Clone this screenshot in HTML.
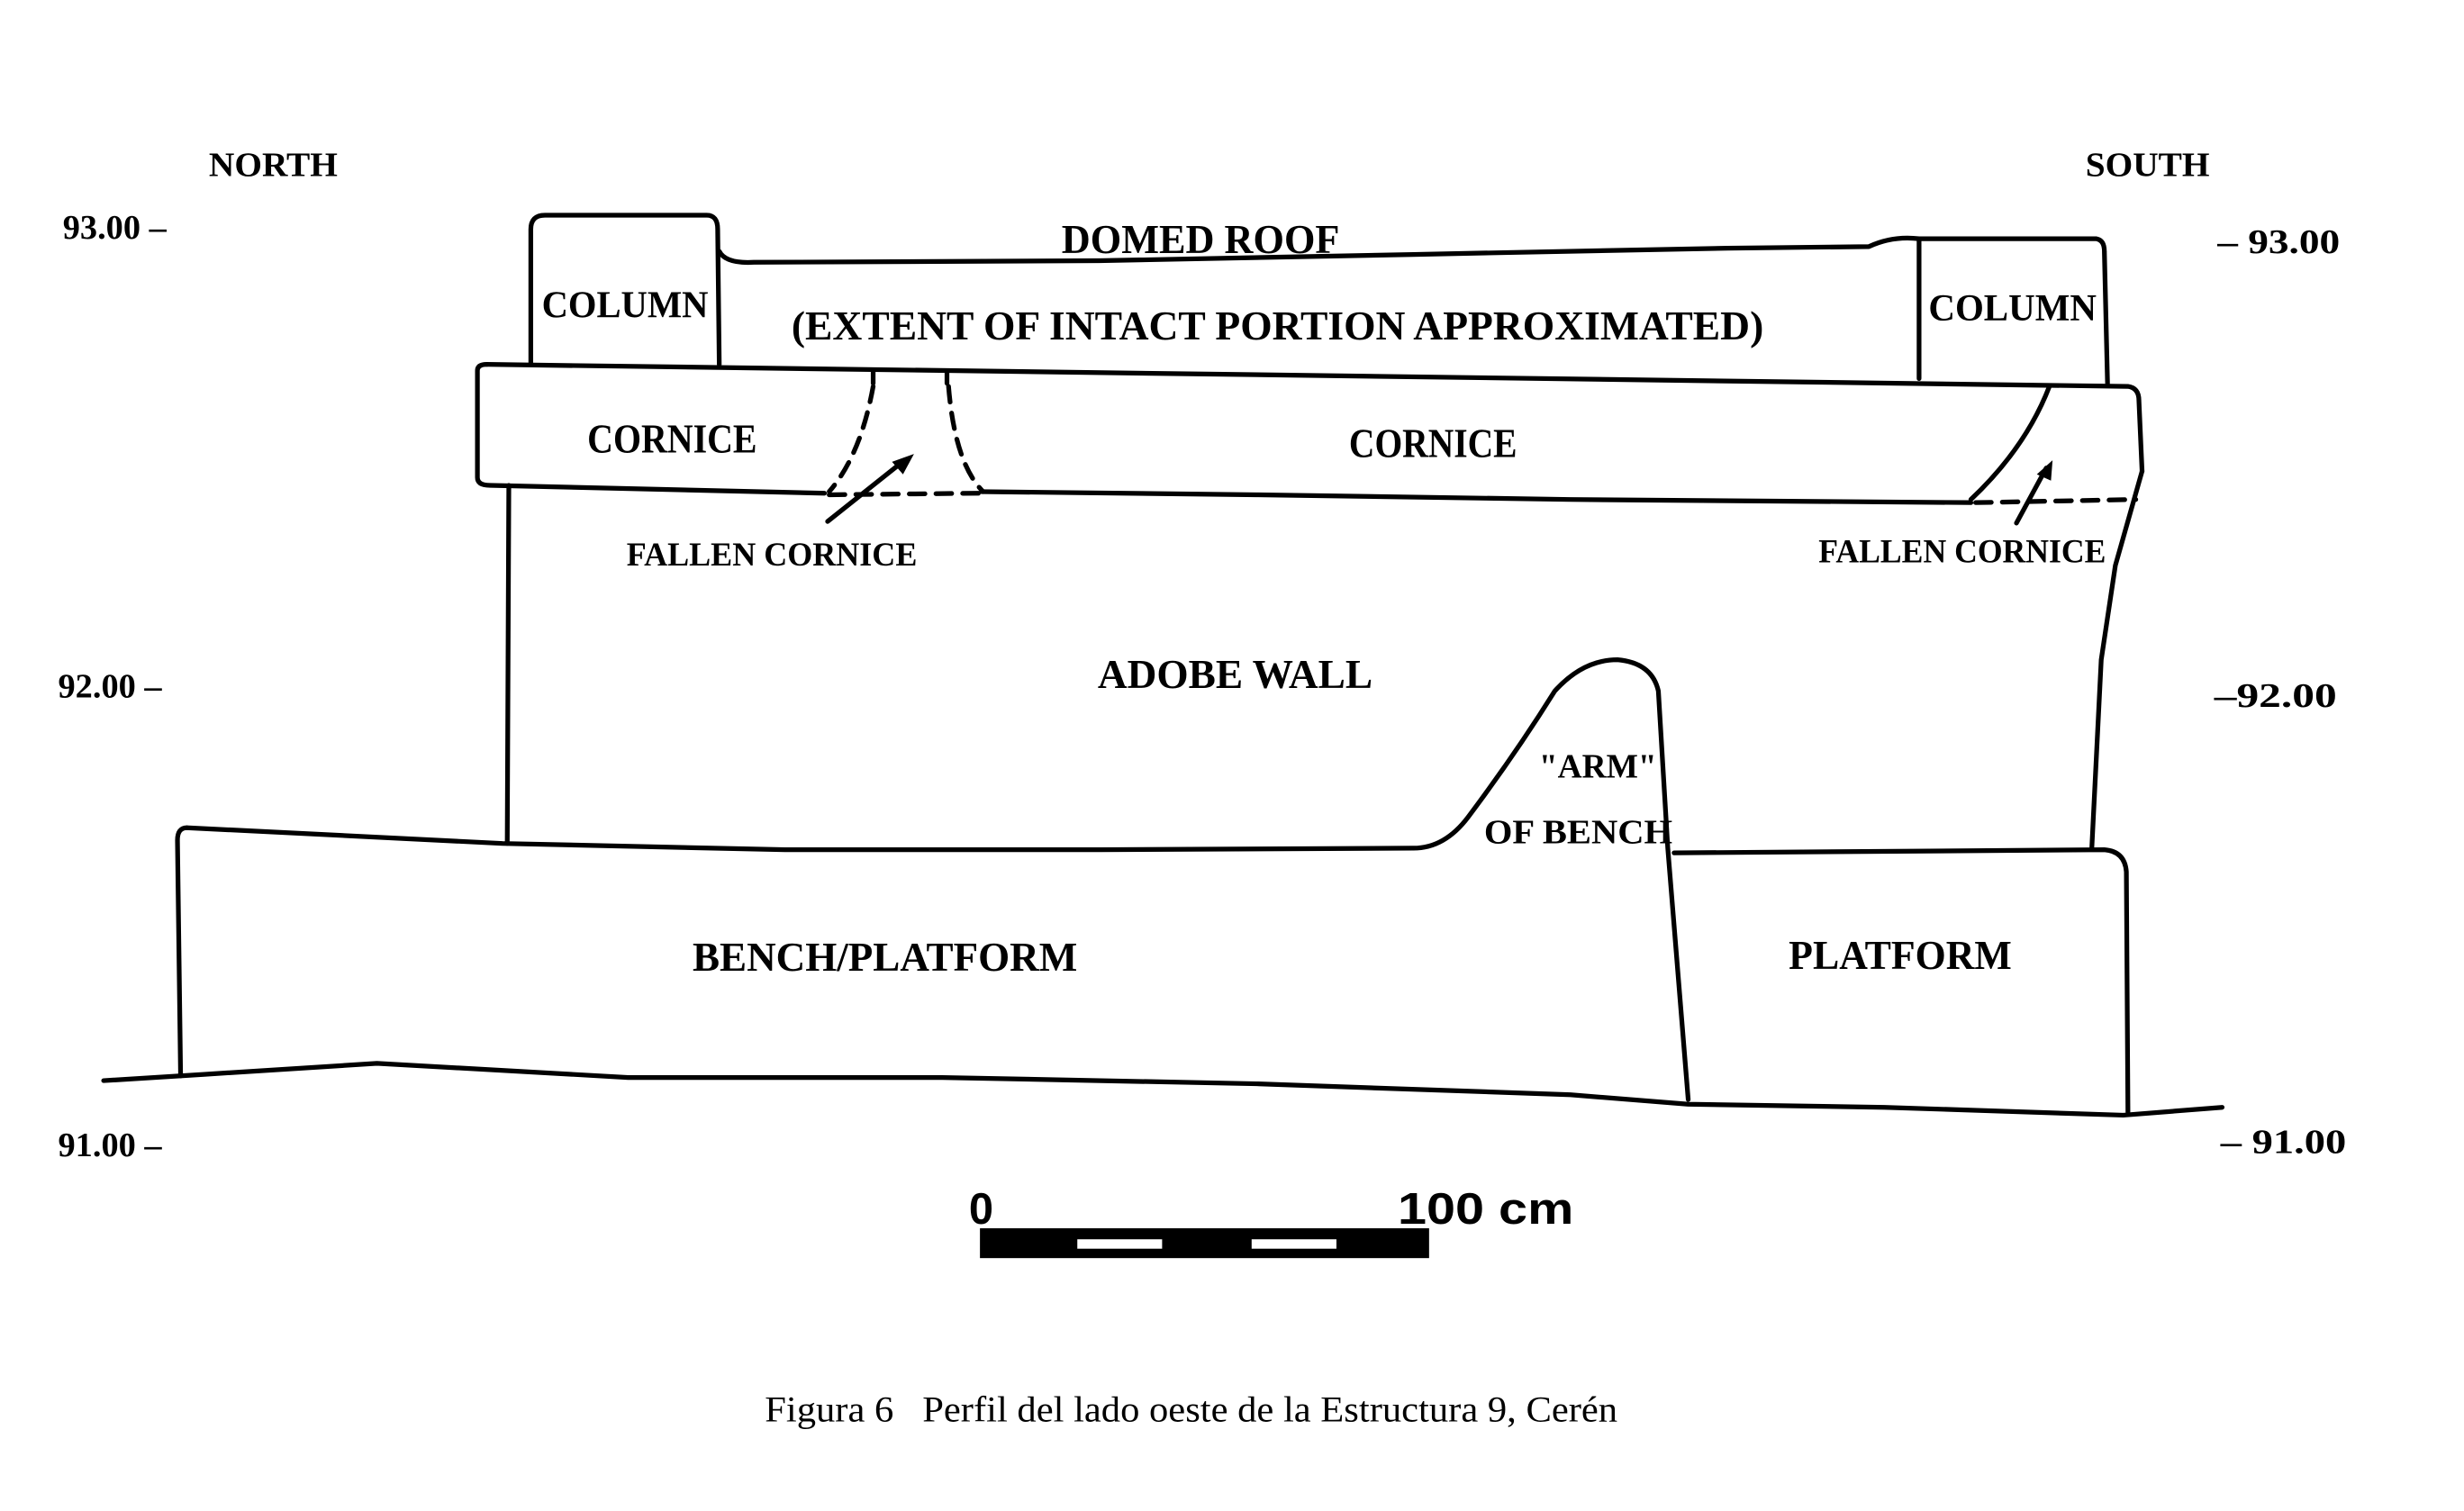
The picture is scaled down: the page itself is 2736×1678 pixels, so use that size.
<!DOCTYPE html>
<html><head><meta charset="utf-8"><style>
html,body{margin:0;padding:0;background:#fff;}
svg{display:block;}
.t{font-family:"Liberation Serif",serif;font-weight:bold;fill:#000;}
</style></head><body>
<svg width="2736" height="1678" viewBox="0 0 1569 962" preserveAspectRatio="none" xmlns="http://www.w3.org/2000/svg">
<g fill="none" stroke="#000" stroke-width="3" stroke-linejoin="round" stroke-linecap="round">
<path d="M338,231 L338,146 Q338,137 347,137 L450,137 Q457,137 457,146 L458,232"/>
<path d="M458,160 Q462,168 480,167 L700,166 L900,162 L1100,158 L1190,157 Q1205,150 1222,152"/>
<path d="M1222,241 L1222,152 L1335,152 Q1340,153 1340,160 L1342,244"/>
<path d="M310,232 L1355,246 Q1362,247 1362,255 L1364,300"/>
<path d="M304,236 Q304,232 310,232 M304,236 L304,304 Q304,309 312,309 L525,314"/>
<path d="M625,313 L800,315 L1000,318 L1255,320"/>
<path d="M556,236 L556,244" />
<path d="M603,236 L603,244" />
<path d="M556,246 Q548,290 528,313" stroke-dasharray="10,7"/>
<path d="M604,246 Q608,295 626,313" stroke-dasharray="10,7"/>
<path d="M528,315 L625,314" stroke-dasharray="10,7"/>
<path d="M1258,320 L1360,318" stroke-dasharray="10,7"/>
<path d="M1305,246 Q1290,285 1255,318"/>
<path d="M527,332 L576,293"/>
<path d="M1284,333 L1303,298"/>
<path d="M324,309 L323,537"/>
<path d="M1364,300 L1347,360 L1338,420 L1332,540"/>
<path d="M119,527 Q113,527 113,535 L115,685"/>
<path d="M119,527 L320,537 L500,541 L700,541 L900,540 Q920,540 935,520 Q965,480 990,440 Q1008,420 1030,420 Q1052,422 1056,440 L1062,540 L1075,700"/>
<path d="M1066,543 L1340,541 Q1353,542 1354,555 L1355,708"/>
<path d="M66,688 L130,684 L240,677 L400,686 L600,686 L800,690 L1000,697 L1075,703 L1200,705 L1352,710 L1415,705"/>
</g>
<polygon points="582,289 568,294 575,302" fill="#000"/>
<polygon points="1307,293 1297,302 1306,306" fill="#000"/>
<rect x="624" y="782" width="286" height="19" fill="#000"/>
<rect x="686" y="789" width="54" height="6" fill="#fff"/>
<rect x="797" y="789" width="54" height="6" fill="#fff"/>
<text x="617" y="779" font-family="Liberation Sans,sans-serif" font-weight="bold" font-size="28">0</text>
<text x="890" y="779" font-family="Liberation Sans,sans-serif" font-weight="bold" font-size="28" textLength="112" lengthAdjust="spacingAndGlyphs">100 cm</text>
<g class="t" font-size="22">
<text x="133" y="112" textLength="82" lengthAdjust="spacingAndGlyphs">NORTH</text>
<text x="1328" y="112" textLength="79" lengthAdjust="spacingAndGlyphs">SOUTH</text>
<text x="40" y="152">93.00 –</text>
<text x="37" y="444">92.00 –</text>
<text x="37" y="736">91.00 –</text>
<text x="1412" y="161" textLength="78" lengthAdjust="spacingAndGlyphs">– 93.00</text>
<text x="1410" y="450" textLength="78" lengthAdjust="spacingAndGlyphs">–92.00</text>
<text x="1414" y="734" textLength="80" lengthAdjust="spacingAndGlyphs">– 91.00</text>
</g>
<g class="t" font-size="26">
<text x="676" y="161" textLength="177" lengthAdjust="spacingAndGlyphs">DOMED ROOF</text>
<text x="504" y="216" textLength="619" lengthAdjust="spacingAndGlyphs">(EXTENT OF INTACT PORTION  APPROXIMATED)</text>
<text x="345" y="202" font-size="24" textLength="106" lengthAdjust="spacingAndGlyphs">COLUMN</text>
<text x="1228" y="204" font-size="24" textLength="107" lengthAdjust="spacingAndGlyphs">COLUMN</text>
<text x="374" y="288" textLength="108" lengthAdjust="spacingAndGlyphs">CORNICE</text>
<text x="859" y="291" textLength="107" lengthAdjust="spacingAndGlyphs">CORNICE</text>
<text x="399" y="360" font-size="21" textLength="185" lengthAdjust="spacingAndGlyphs">FALLEN CORNICE</text>
<text x="1158" y="358" font-size="21" textLength="183" lengthAdjust="spacingAndGlyphs">FALLEN CORNICE</text>
<text x="699" y="438" textLength="175" lengthAdjust="spacingAndGlyphs">ADOBE WALL</text>
<text x="980" y="495" font-size="22" textLength="75" lengthAdjust="spacingAndGlyphs">"ARM"</text>
<text x="945" y="537" font-size="22" textLength="120" lengthAdjust="spacingAndGlyphs">OF BENCH</text>
<text x="441" y="618" textLength="245" lengthAdjust="spacingAndGlyphs">BENCH/PLATFORM</text>
<text x="1139" y="617" textLength="142" lengthAdjust="spacingAndGlyphs">PLATFORM</text>
</g>
<text x="487" y="905" font-family="Liberation Serif,serif" font-size="23" textLength="543" lengthAdjust="spacingAndGlyphs" xml:space="preserve">Figura 6   Perfil del lado oeste de la Estructura 9, Cerén</text>
</svg>
</body></html>
